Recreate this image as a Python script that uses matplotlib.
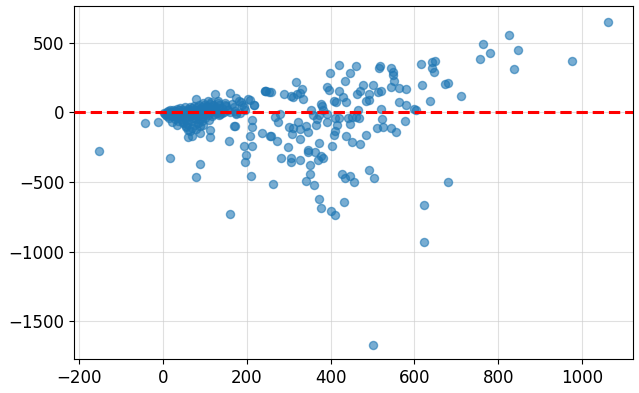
import matplotlib
matplotlib.use("Agg")
import matplotlib.pyplot as plt
import numpy as np

# predicted values (x) and residuals (y)
cluster_x = [5, 8, 10, 12, 14, 15, 17, 18, 20, 22, 24, 25, 27, 28, 30, 32, 33, 35, 36, 38,
             40, 41, 43, 44, 46, 47, 48, 50, 52, 53, 55, 56, 58, 59, 60, 61, 63, 64, 65, 66,
             68, 69, 70, 72, 73, 74, 75, 76, 78, 79, 80, 82, 83, 84, 85, 86, 88, 89, 90, 92,
             93, 94, 96, 97, 98, 100, 101, 103, 104, 106, 108, 110, 111, 113, 115, 117, 118, 120, 122, 124,
             126, 128, 130, 133, 136, 140, 145, 150, 155, 160, 165, 170, 175, 2, 6, 11, 19, 26, 34, 45]
cluster_y = [-10, 5, -25, 10, -5, -40, 15, -15, 0, -30, 20, -8, -50, 8, -20, 25, -35, 0, -60, 15,
             -15, 30, -45, 5, -25, -70, 20, -5, 35, -40, 10, -20, -85, 25, -55, 0, 40, -30, 15, -10,
             -65, 30, -40, 5, -20, 45, -90, 20, -50, -5, 35, -30, 10, -75, 50, -15, 25, -45, 0, 40,
             -60, 15, -25, 55, -10, 30, -40, 5, 45, -20, 20, -55, 60, 0, 35, -30, 10, 50, -10, 25,
             40, -5, 15, 55, -15, 30, 5, 45, 20, 0, 60, 35, -15, -5, -18, -12, -22, -28, -12, -8]

outer_x = [-153, -43, -12, 17, 21, 32, 48, 54, 55, 64, 68, 68, 79, 59, 59, 88, 94, 88, 112, 112,
           79, 88, 160, 134, 169, 171, 158, 78, 123, 115, 96, 106, 148, 132, 160, 173, 186, 207, 218, 194,
           181, 187, 203, 217, 243, 131, 147, 171, 140, 183, 175, 213, 213, 207, 193, 211, 198, 195, 209, 236,
           254, 245, 253, 196]
outer_y = [-278, -79, -72, -328, -72, -91, -77, -100, -103, -136, -172, -110, -117, -175, -130, -146, -91, -100, -125, -175,
           -462, -371, -733, -19, -100, -100, -208, 95, 131, 74, 64, 81, 55, 79, 138, 103, 74, 90, 50, 40,
           79, 55, 98, 55, 150, 67, 67, 7, -5, -5, -7, -53, -108, -172, -242, -242, -309, -359, -457, -151,
           -170, 153, 146, 15]

mid_x = [316, 331, 326, 244, 257, 289, 305, 311, 319, 333, 391, 396, 420, 430, 408, 412, 437, 377, 463, 470,
         478, 485, 491, 492, 502, 513, 521, 515, 517, 544, 549, 548, 550, 544, 563, 580, 563, 580, 599, 604,
         520, 523, 511, 526, 544, 556, 578, 491, 504, 484, 470, 452, 468, 466, 461, 452, 446, 441, 437, 420,
         414, 410, 409, 404, 411, 390, 392, 379, 381, 373, 368, 364, 358, 354, 373, 362, 376, 381, 369, 345,
         346, 350, 351, 342, 359, 372, 431, 427, 435, 446, 456, 327, 305, 306, 281, 298, 327, 307, 301, 310,
         323, 326, 342, 345, 271, 257, 267, 273, 278, 263, 420, 399, 460, 445, 434, 376,
         400, 411]
mid_y = [218, 165, 141, 153, 146, 129, 117, 110, 129, 93, 179, 158, 156, 112, 84, 77, 77, 60, 134, 156,
         196, 84, 89, 134, 196, 144, 156, 316, 333, 316, 292, 266, 222, 179, 172, 165, 77, 50, 26, 17,
         24, -48, -110, -108, -110, -141, -62, -412, -470, -163, -227, -215, -43, 17, -31, -36, -84, -38, -167, -43,
         -93, -132, -163, -242, -43, -12, -69, 45, 17, -19, -48, -89, -19, 14, -218, -287, -316, -325, -344, -268,
         -285, -380, -440, -490, -522, -622, -640, -443, -469, -455, -498, -344, -330, -359, -328, -249, -189, -158, -105, -115,
         -69, -117, -96, -141, -206, -170, -36, -69, -14, -512, 337, 285, 333, 282, 225, -685,
         -707, -736]

high_x = [615, 617, 636, 641, 643, 648, 647, 1061, 975, 826, 763, 781, 757, 848, 837, 710, 673, 680, 681,
          623, 623, 501]
high_y = [350, 193, 81, 321, 360, 367, 286, 650, 371, 552, 493, 429, 386, 445, 314, 114, 202, 207, -500,
          -668, -930, -1671]

x = np.array(cluster_x + outer_x + mid_x + high_x, dtype=float)
y = np.array(cluster_y + outer_y + mid_y + high_y, dtype=float)

xticks = [-200, 0, 200, 400, 600, 800, 1000]
yticks = [-1500, -1000, -500, 0, 500]

fig = plt.figure(figsize=(6.39, 3.93), dpi=100)
ax = fig.add_axes([0.1158, 0.0865, 0.8743, 0.899])
ax.scatter(x, y, s=34, color="#1f77b4", alpha=0.6, zorder=2)
ax.axhline(0, color="red", linestyle="--", linewidth=2.2, zorder=3)
ax.set_xlim(-213, 1121)
ax.set_ylim(-1770, 765)
ax.set_xticks(xticks)
ax.set_yticks(yticks)
ax.tick_params(labelsize=12)
ax.grid(True, color="#cccccc", alpha=0.6, linewidth=0.8, zorder=0)
ax.set_axisbelow(True)
fig.savefig("out.png", dpi=100)
